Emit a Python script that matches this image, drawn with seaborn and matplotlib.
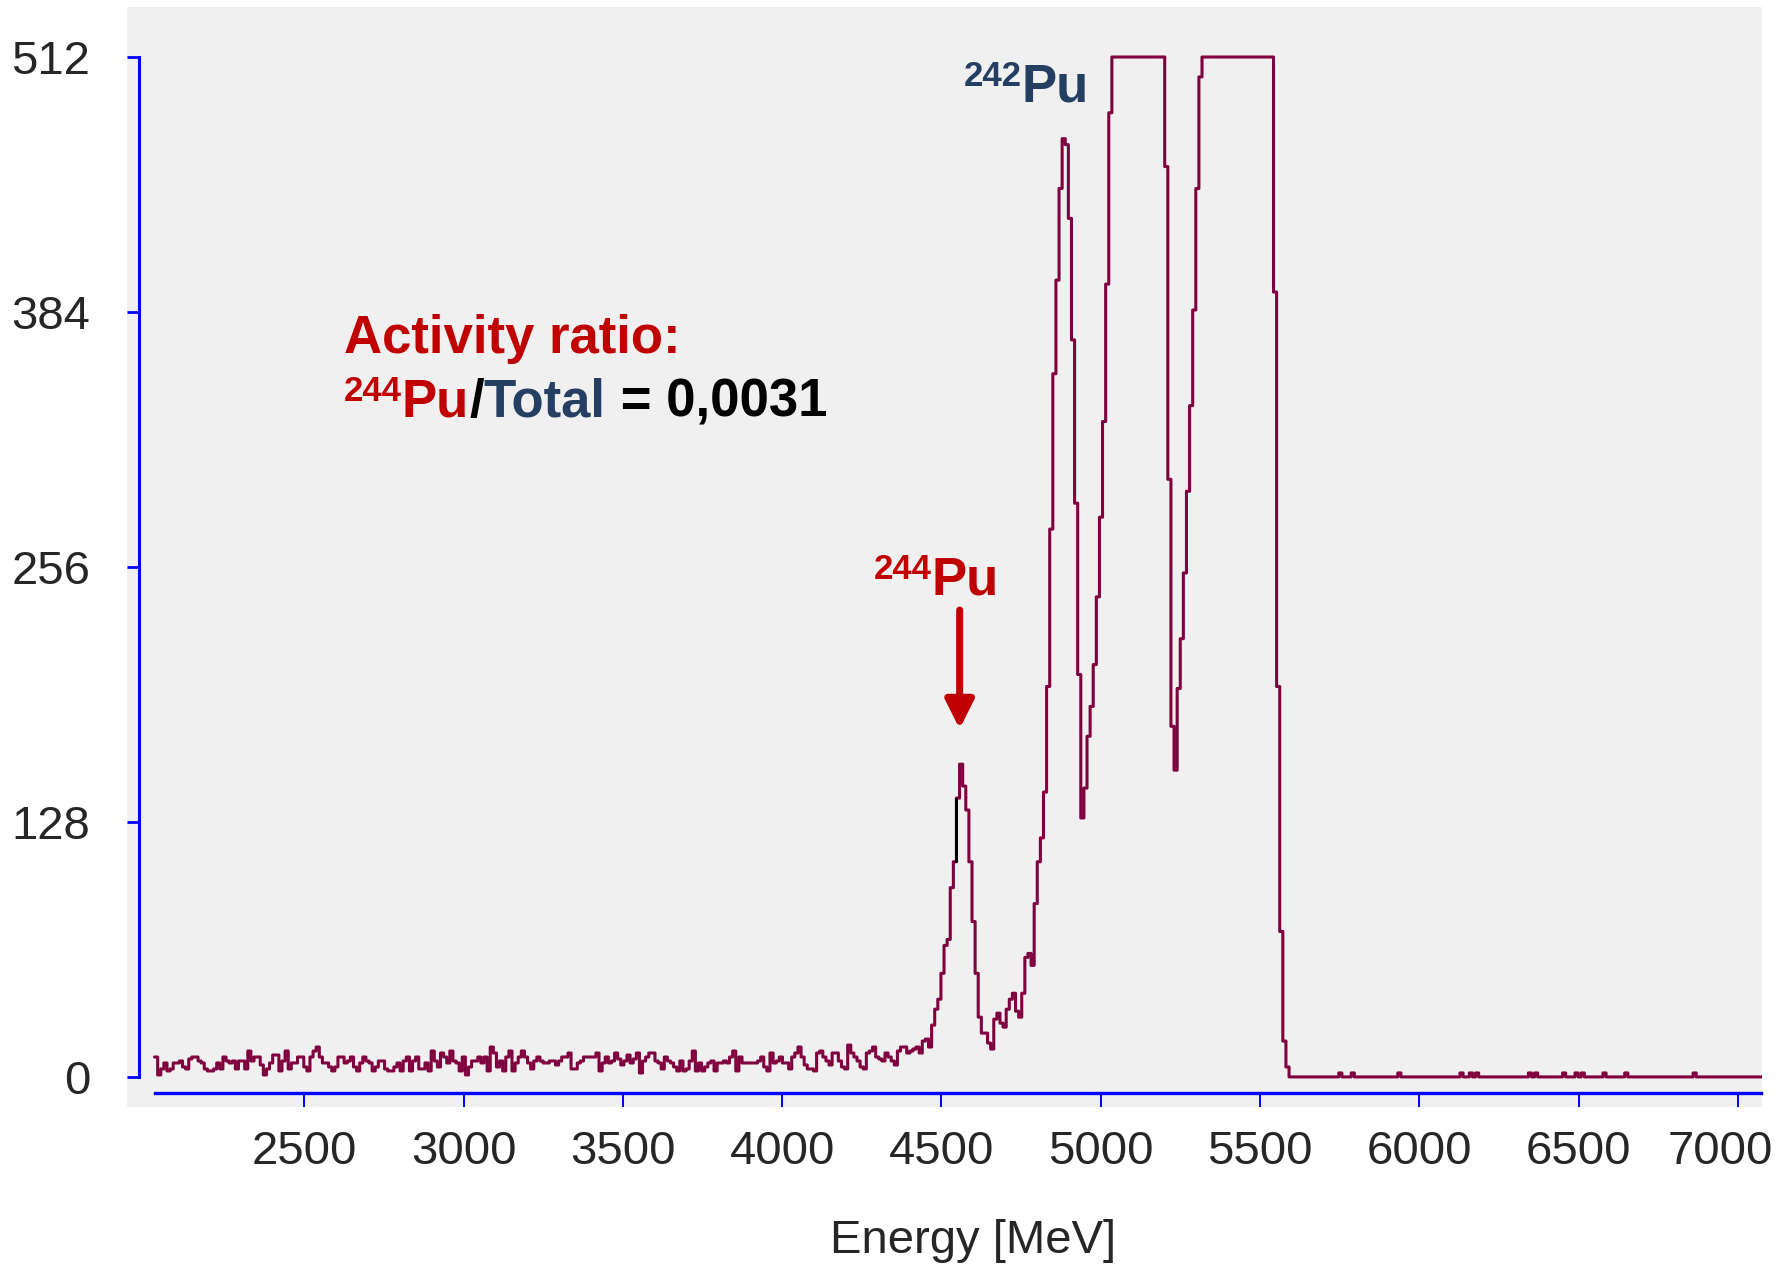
import matplotlib
matplotlib.use("Agg")
import matplotlib.pyplot as plt
import matplotlib.transforms as mtransforms
import numpy as np
import seaborn as sns

sns.set_style('white')
plt.rcParams['font.family'] = ['Liberation Sans', 'DejaVu Sans']

# channel calibration (keV)
e_start = 2029.5
e_step = 9.758

# counts per channel
counts_noise_a = [
    10, 1, 4, 7, 3, 4, 7, 7, 8, 5,
    4, 9, 10, 10, 8, 7, 4, 3, 3, 4,
    7, 4, 10, 8, 7, 8, 4, 8, 8, 4,
    13, 8, 10, 10, 6, 1, 4, 7, 11, 11,
    3, 8, 13, 4, 7, 7, 10, 10, 5, 3,
    10, 13, 15, 10, 7, 7, 5, 3, 5, 10,
    10, 7, 8, 10, 5, 3, 7, 10, 8, 7,
    3, 5, 8, 8, 4, 3, 3, 5, 7, 3,
    8, 10, 3, 8, 10, 4, 4, 7, 3, 13,
    8, 5, 12, 10, 7, 13, 8, 7, 3, 10,
    1, 5, 8, 8, 10, 7, 10, 3, 15, 12,
    5, 8, 3, 10, 13, 3, 7, 10, 13, 10,
    7, 4, 8, 10, 8, 7, 7, 8, 8, 6,
    8, 10, 10, 12, 4, 4, 7, 8, 10, 10,
    10, 10, 12, 3, 7, 10, 7, 8, 12, 9,
    6, 8, 11]

counts_noise_b = [
    7, 9, 12, 2, 8, 10, 12, 12, 8, 7,
    4, 10, 8, 7, 5, 3, 8, 3, 4, 8,
    13, 3, 7, 3, 5, 7, 8, 3, 7, 7,
    8, 7, 10, 13, 3, 10, 7, 7, 7, 7,
    7, 8, 10, 5, 3, 12, 7, 8, 10, 7,
    7, 4, 10, 12, 15, 10, 6, 4, 4, 3,
    12, 13, 10, 8, 6, 12, 12, 8, 5, 4,
    16, 12, 10, 8, 5, 4, 12, 13, 15, 10,
    9, 8, 12, 10, 8, 6, 13, 15, 15, 12,
    13, 14, 15]

counts_peaks = [
    12, 18, 19, 15, 26, 34, 39, 52, 66, 69,
    95, 108, 140, 157, 146, 134, 108, 78, 52, 30,
    22, 22, 17, 14, 29, 32, 27, 25, 34, 39,
    42, 33, 30, 42, 60, 62, 56, 87, 108, 120,
    143, 196, 275, 353, 400, 446, 471, 468, 431, 370,
    288, 202, 130, 145, 171, 186, 207, 241, 281, 329,
    398, 484,
    512, 512, 512, 512, 512, 512, 512, 512, 512, 512,
    512, 512, 512, 512, 512, 512, 512,
    457, 300, 176, 154, 195, 220, 253, 294, 337, 385,
    446, 502,
    512, 512, 512, 512, 512, 512, 512, 512, 512, 512,
    512, 512, 512, 512, 512, 512, 512, 512, 512, 512,
    512, 512, 512,
    394, 196, 73, 18, 5]

counts_tail = [
    0, 0, 0, 0, 0, 0, 0, 0, 0, 0, 0, 0, 0, 0, 0, 0, 2, 0, 0, 0,
    2, 0, 0, 0, 0, 0, 0, 0, 0, 0, 0, 0, 0, 0, 0, 2, 0, 0, 0, 0,
    0, 0, 0, 0, 0, 0, 0, 0, 0, 0, 0, 0, 0, 0, 0, 2, 0, 0, 2, 0,
    2, 0, 0, 0, 0, 0, 0, 0, 0, 0, 0, 0, 0, 0, 0, 0, 0, 2, 0, 2,
    0, 0, 0, 0, 0, 0, 0, 0, 2, 0, 0, 0, 2, 0, 2, 0, 0, 0, 0, 0,
    0, 2, 0, 0, 0, 0, 0, 0, 2, 0, 0, 0, 0, 0, 0, 0, 0, 0, 0, 0,
    0, 0, 0, 0, 0, 0, 0, 0, 0, 0, 2, 0, 0, 0, 0, 0, 0, 0, 0, 0,
    0, 0, 0, 0, 0, 0, 0, 0, 0, 0, 0, 0]

marker_channel = 258  # black cursor line on the 244Pu peak

y_ticks = [0, 128, 256, 384, 512]
x_ticks = [2500, 3000, 3500, 4000, 4500, 5000, 5500, 6000, 6500, 7000]

line_col = '#80003f'
red = '#c00000'
navy = '#243f62'
blue = '#0000ff'

counts = np.array(counts_noise_a + counts_noise_b + counts_peaks + counts_tail)
edges = e_start + e_step * np.arange(len(counts) + 1)
yvals = np.append(counts, counts[-1])

fig = plt.figure(figsize=(17.81, 12.65), dpi=100)
ax = fig.add_axes([127 / 1781, 158 / 1265, 1635 / 1781, 1100 / 1265])
ax.set_facecolor('#f0f0f0')

sns.lineplot(x=edges, y=yvals, drawstyle='steps-post', color=line_col,
             lw=2.2, estimator=None, errorbar=None, ax=ax)
ax.vlines(edges[marker_channel], counts[marker_channel - 1], counts[marker_channel],
          color='black', lw=2.2, zorder=3)

ax.set_xlim(1943, 7076)
ax.set_ylim(-15.1, 537.1)

for s in ['top', 'right']:
    ax.spines[s].set_visible(False)
ax.spines['left'].set_position(('data', 1980.5))
ax.spines['left'].set_bounds(0, 512)
ax.spines['left'].set_color(blue)
ax.spines['left'].set_linewidth(2.2)
ax.spines['bottom'].set_position(('data', -8))
ax.spines['bottom'].set_bounds(edges[0], edges[-1])
ax.spines['bottom'].set_color(blue)
ax.spines['bottom'].set_linewidth(2.4)

ax.set_xticks(x_ticks)
ax.set_yticks(y_ticks)
ax.tick_params(axis='x', direction='out', length=10, width=1.4, color=blue,
               labelsize=34, pad=17, bottom=True)
ax.tick_params(axis='y', direction='out', length=8.6, width=2, color=blue,
               labelsize=34, pad=26.5, left=True)

# last x label sits left of its tick so it stays inside the picture
last_lbl = ax.xaxis.get_major_ticks()[-1].label1
last_lbl.set_transform(last_lbl.get_transform()
                       + mtransforms.ScaledTranslation(-0.17, 0, fig.dpi_scale_trans))

ax.set_xlabel('Energy [MeV]', fontsize=34)
ax.xaxis.set_label_coords(0.5174, -0.1018)
ax.set_ylabel('')

renderer = fig.canvas.get_renderer()


def rich_text(x, y, pieces):
    dx = 0
    for txt, size, col, rise in pieces:
        tr = mtransforms.offset_copy(ax.transData, fig=fig, x=dx, y=rise, units='dots')
        t = ax.text(x, y, txt, transform=tr, fontsize=size, color=col,
                    fontweight='bold', ha='left', va='baseline')
        dx += t.get_window_extent(renderer).width


rich_text(2624, 363.5, [('Activity ratio:', 38, red, 0)])
rich_text(2624, 331.3, [('244', 25, red, 16), ('Pu', 38, red, 0), ('/', 38, 'black', 0),
                        ('Total', 38, navy, 0), (' = 0,0031', 38, 'black', 0)])
rich_text(4570, 489.6, [('242', 25, navy, 16), ('Pu', 38, navy, 0)])
rich_text(4287, 242, [('244', 25, red, 16), ('Pu', 38, red, 0)])

ax.annotate('', xy=(4557, 174.7), xytext=(4557, 234.4),
            arrowprops=dict(arrowstyle='-|>,head_width=0.43,head_length=0.86',
                            color=red, lw=5, mutation_scale=20,
                            shrinkA=0, shrinkB=0))

fig.savefig('out.png', dpi=100)
